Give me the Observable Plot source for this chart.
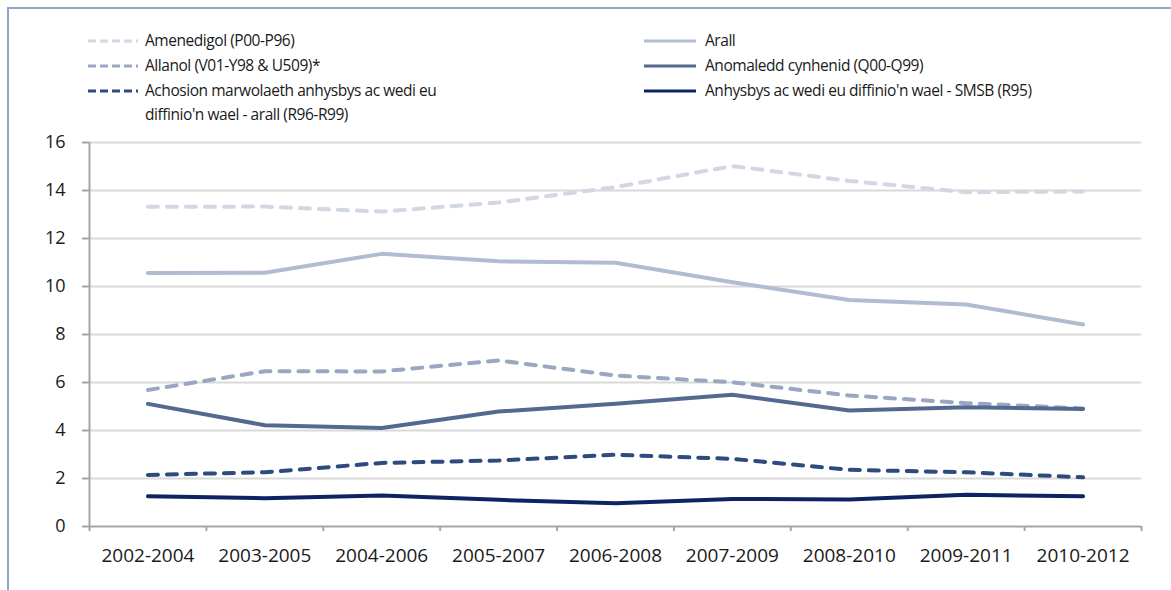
<!DOCTYPE html>
<html>
<head>
<meta charset="utf-8">
<script src="https://cdn.jsdelivr.net/npm/d3@7"></script>
<script src="https://cdn.jsdelivr.net/npm/@observablehq/plot@0.6"></script>
<style>
  html, body { margin: 0; padding: 0; background: #fff; }
  #wrap { position: relative; width: 1171px; height: 590px; overflow: hidden; font-family: "Open Sans", sans-serif; color: #1a1a1a; }
  #frame { position: absolute; left: 7px; top: 7px; right: -10px; bottom: -10px; border-left: 2px solid #95a4c4; border-top: 2px solid #95a4c4; }
  .lg { position: absolute; font-size: 15.5px; letter-spacing: -0.45px; line-height: 24px; white-space: nowrap; }
  .lg svg { position: absolute; }
  #chart { position: absolute; left: 0; top: 0; }
</style>
</head>
<body>
<div id="wrap">
  <div id="frame"></div>
  <div id="legend"></div>
  <div id="chart"></div>
</div>
<script>
const categories = ["2002-2004","2003-2005","2004-2006","2005-2007","2006-2008","2007-2009","2008-2010","2009-2011","2010-2012"];
const amenedigol = [13.32, 13.33, 13.12, 13.5, 14.14, 15.02, 14.4, 13.93, 13.96];
const arall      = [10.56, 10.57, 11.36, 11.05, 10.99, 10.18, 9.44, 9.25, 8.42];
const allanol    = [5.69, 6.47, 6.46, 6.92, 6.29, 6.01, 5.46, 5.14, 4.92];
const anomaledd  = [5.11, 4.22, 4.10, 4.79, 5.11, 5.49, 4.83, 4.97, 4.90];
const achosion   = [2.15, 2.26, 2.65, 2.75, 2.99, 2.82, 2.36, 2.26, 2.05];
const smsb       = [1.26, 1.18, 1.29, 1.11, 0.97, 1.15, 1.12, 1.32, 1.26];
const yTicks = [0, 2, 4, 6, 8, 10, 12, 14, 16];

const series = [
  {name: "Amenedigol (P00-P96)", values: amenedigol, color: "#d1d7e3", dash: true},
  {name: "Arall", values: arall, color: "#b1bbd1", dash: false},
  {name: "Allanol (V01-Y98 & U509)*", values: allanol, color: "#9aa7c2", dash: true},
  {name: "Anomaledd cynhenid (Q00-Q99)", values: anomaledd, color: "#53698f", dash: false},
  {name: "Achosion marwolaeth anhysbys ac wedi eu diffinio'n wael - arall (R96-R99)", lines: ["Achosion marwolaeth anhysbys ac wedi eu", "diffinio'n wael - arall (R96-R99)"], values: achosion, color: "#2f4a7c", dash: true},
  {name: "Anhysbys ac wedi eu diffinio'n wael - SMSB (R95)", values: smsb, color: "#0d2462", dash: false}
];

const lineMarks = series.map(s => Plot.lineY(
  s.values.map((v, i) => ({x: i + 0.5, y: v})),
  {x: "x", y: "y", stroke: s.color, strokeWidth: 4, strokeLinecap: "round", strokeLinejoin: "round",
   strokeDasharray: s.dash ? "10,9" : null}
));

const chart = Plot.plot({
  width: 1171, height: 590,
  marginTop: 142, marginLeft: 89, marginRight: 30, marginBottom: 64,
  x: {domain: [0, 9], axis: null},
  y: {domain: [0, 16], axis: null},
  style: {fontFamily: "Open Sans, sans-serif", fontSize: "18px", color: "#1a1a1a", background: "transparent", overflow: "visible"},
  marks: [
    Plot.ruleY(yTicks.filter(d => d > 0), {stroke: "#d9d9d9", strokeWidth: 2}),
    Plot.axisY({ticks: yTicks, tickSize: 7, tickPadding: 17, stroke: "#a6a6a6", strokeWidth: 2, label: null, fontSize: 18}),
    Plot.axisX({ticks: d3.range(0, 10), tickSize: 5, tickFormat: () => "", stroke: "#a6a6a6", strokeWidth: 2, label: null}),
    Plot.axisX({ticks: categories.map((c, i) => i + 0.5), tickSize: 0, tickPadding: 22, tickFormat: d => categories[Math.floor(d)], label: null, fontSize: 19}),
    Plot.ruleX([0], {stroke: "#a6a6a6", strokeWidth: 2}),
    Plot.ruleY([0], {stroke: "#a6a6a6", strokeWidth: 2}),
    ...lineMarks
  ]
});
document.getElementById("chart").append(chart);

// legend
const legend = document.getElementById("legend");
const cols = [{sx: 88, tx: 145}, {sx: 644, tx: 705}];
const rowY = [41, 66, 91];
const order = [[0, 0, 0], [1, 1, 0], [2, 0, 1], [3, 1, 1], [4, 0, 2], [5, 1, 2]];
order.forEach(([si, c, r]) => {
  const s = series[si];
  const cy = rowY[r];
  const col = cols[c];
  const ns = "http://www.w3.org/2000/svg";
  const svg = document.createElementNS(ns, "svg");
  svg.setAttribute("width", 56); svg.setAttribute("height", 8);
  svg.style.position = "absolute"; svg.style.left = (col.sx - 2) + "px"; svg.style.top = (cy - 4) + "px";
  const ln = document.createElementNS(ns, "line");
  ln.setAttribute("x1", 2); ln.setAttribute("x2", col.sx === 88 ? 52 : 54);
  ln.setAttribute("y1", 4); ln.setAttribute("y2", 4);
  ln.setAttribute("stroke", s.color); ln.setAttribute("stroke-width", 3);
  if (s.dash) ln.setAttribute("stroke-dasharray", "8,4");
  svg.appendChild(ln);
  legend.appendChild(svg);
  const lines = s.lines || [s.name];
  lines.forEach((t, k) => {
    const d = document.createElement("div");
    d.className = "lg";
    d.textContent = t;
    d.style.left = col.tx + "px";
    d.style.top = (cy - 13 + k * 24) + "px";
    legend.appendChild(d);
  });
});
</script>
</body>
</html>
